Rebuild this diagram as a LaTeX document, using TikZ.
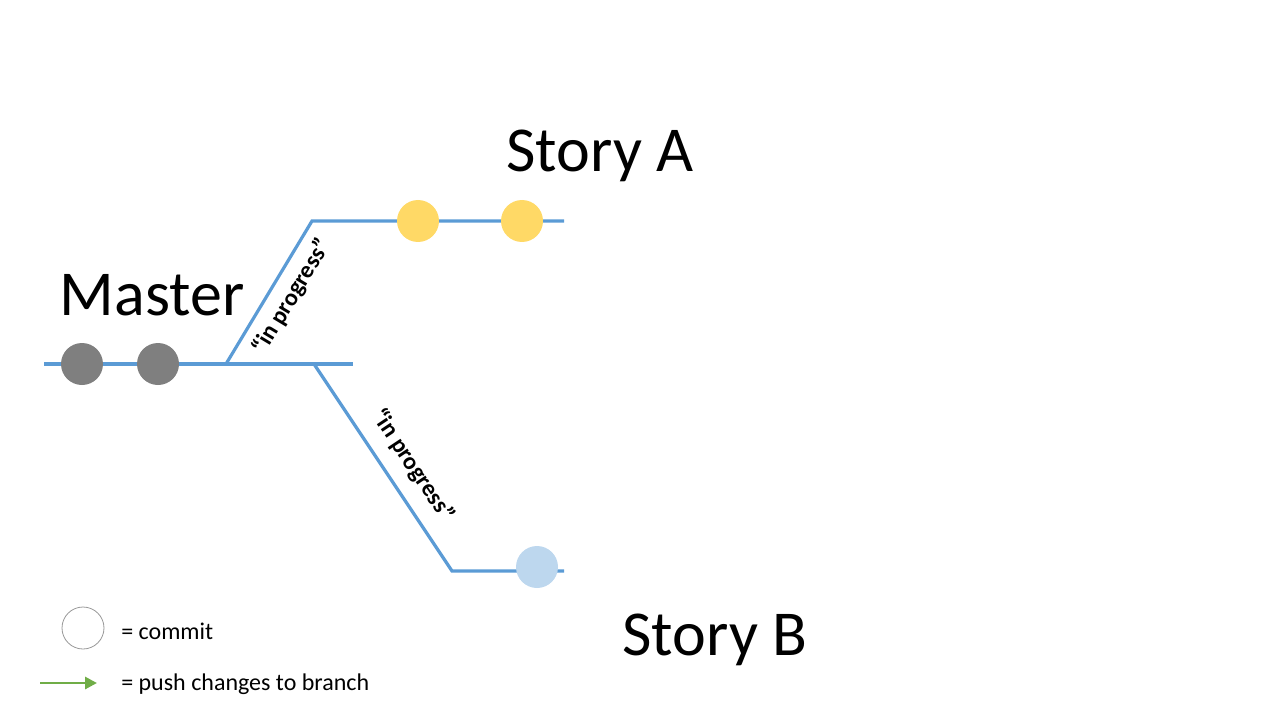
\documentclass[tikz,border=0pt]{standalone}
\usepackage{fontspec}
\setmainfont{Carlito}
\usetikzlibrary{arrows.meta}
\definecolor{branchblue}{HTML}{5B9BD5}
\definecolor{mastergray}{HTML}{7F7F7F}
\definecolor{storyyellow}{HTML}{FFD966}
\definecolor{storyblue}{HTML}{BDD7EE}
\definecolor{pushgreen}{HTML}{70AD47}
\begin{document}
\begin{tikzpicture}[x=0.75pt,y=-0.75pt,
  branch/.style={draw=branchblue,line width=2.4pt},
  commit/.style={circle,minimum size=31.5pt,inner sep=0pt},
  title/.style={font=\fontsize{48}{52}\selectfont},
  lbl/.style={font=\bfseries\fontsize{18}{20}\selectfont,sloped,inner sep=2pt},
  legend/.style={font=\fontsize{18}{21}\selectfont,anchor=west,inner sep=0pt}]
\useasboundingbox (0,0) rectangle (1280,720);
% branch coordinates
\coordinate (m0) at (44,364);
\coordinate (m1) at (353,364);
\coordinate (fa) at (226,364);
\coordinate (ka) at (312,221);
\coordinate (ea) at (564,221);
\coordinate (fb) at (314,364);
\coordinate (kb) at (452,571);
\coordinate (eb) at (564,571);
% lines
\draw[branch] (m0) -- (m1);
\draw[branch] (fa) -- node[lbl,below=5pt,pos=0.55] {“in progress”} (ka) -- (ea);
\draw[branch] (fb) -- node[lbl,above=8pt,pos=0.56] {“in progress”} (kb) -- (eb);
% commits
\node[commit,fill=mastergray] (c1) at (82,364) {};
\node[commit,fill=mastergray] (c2) at (158,364) {};
\node[commit,fill=storyyellow] (a1) at (418,221) {};
\node[commit,fill=storyyellow] (a2) at (522,221) {};
\node[commit,fill=storyblue] (b1) at (537,567) {};
% titles
\node[title] (tm) at (152,295) {Master};
\node[title] (ta) at (600,156) {Story A};
\node[title] (tb) at (715,640) {Story B};
% legend
\node[commit,draw=mastergray!80,line width=0.6pt,fill=white] (lc) at (83,628) {};
\node[legend] (lct) at (121,631) {= commit};
\coordinate (la0) at (40,683);
\coordinate (la1) at (97,683);
\draw[pushgreen,line width=2.2pt,-{Triangle[length=9pt,width=9pt]}] (la0) -- (la1);
\node[legend] (lat) at (121,684) {= push changes to branch};
\end{tikzpicture}
\end{document}
